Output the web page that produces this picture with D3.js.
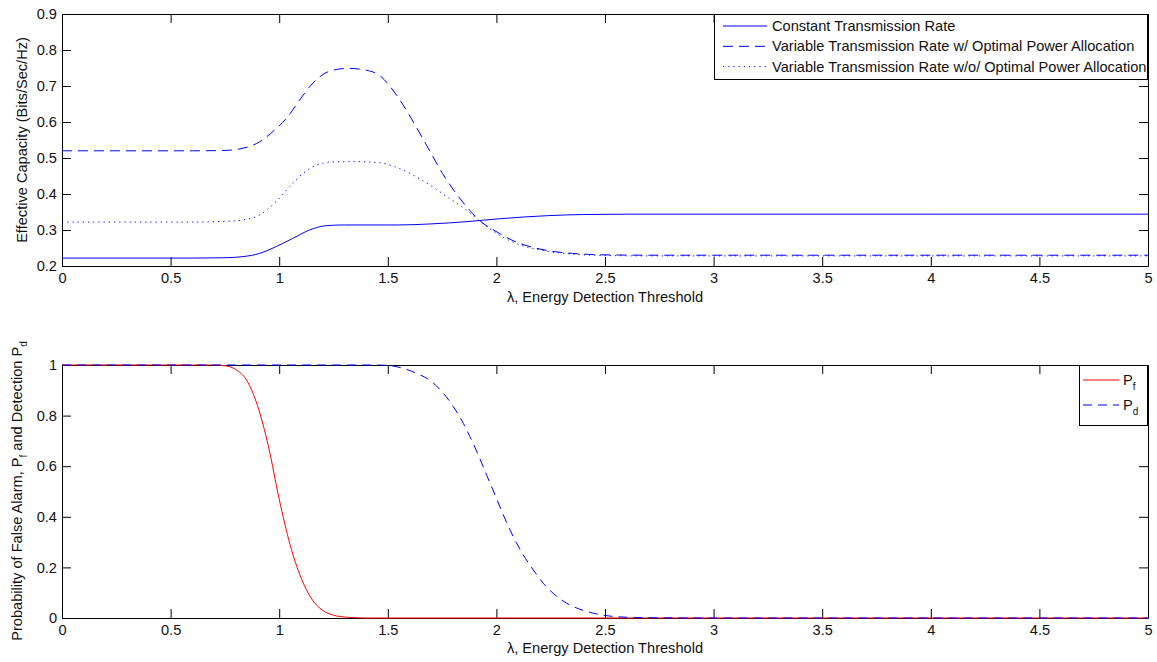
<!DOCTYPE html>
<html>
<head>
<meta charset="utf-8">
<script src="https://cdn.jsdelivr.net/npm/d3@7/dist/d3.min.js"></script>
<style>
  html, body { margin: 0; padding: 0; background: #fff; }
  svg { display: block; font-family: "Liberation Sans", Arial, Helvetica, sans-serif; }
</style>
</head>
<body>
<svg id="chart" width="1157" height="662"></svg>
<script>
// ---------- DATA ----------
const xTicks = [0, 0.5, 1, 1.5, 2, 2.5, 3, 3.5, 4, 4.5, 5];
const topYTicks = [0.2, 0.3, 0.4, 0.5, 0.6, 0.7, 0.8, 0.9];
const botYTicks = [0, 0.2, 0.4, 0.6, 0.8, 1];

const constX = [0, 0.6, 0.75, 0.833, 0.91, 0.986, 1.063, 1.14, 1.216, 1.3, 1.55, 1.7, 1.86, 2.01, 2.24, 2.4, 2.6, 3, 4, 5];
const constY = [0.222, 0.222, 0.223, 0.226, 0.235, 0.254, 0.277, 0.300, 0.312, 0.314, 0.314, 0.317, 0.323, 0.331, 0.340, 0.343, 0.344, 0.344, 0.344, 0.344];

const optX = [0, 0.6, 0.75, 0.833, 0.91, 0.979, 1.04, 1.094, 1.155, 1.232, 1.316, 1.4, 1.469, 1.523, 1.576, 1.63, 1.691, 1.752, 1.814, 1.875, 1.936, 2.013, 2.089, 2.166, 2.243, 2.35, 2.5, 2.7, 3, 4, 5];
const optY = [0.52, 0.52, 0.521, 0.527, 0.545, 0.578, 0.615, 0.661, 0.708, 0.741, 0.749, 0.744, 0.726, 0.689, 0.642, 0.587, 0.522, 0.457, 0.402, 0.356, 0.320, 0.291, 0.267, 0.252, 0.242, 0.235, 0.231, 0.230, 0.230, 0.230, 0.230];

const noOptX = [0, 0.6, 0.75, 0.833, 0.91, 0.986, 1.048, 1.109, 1.17, 1.247, 1.354, 1.461, 1.553, 1.63, 1.706, 1.783, 1.86, 1.936, 2.013, 2.089, 2.166, 2.243, 2.35, 2.5, 2.7, 3, 4, 5];
const noOptY = [0.322, 0.322, 0.324, 0.328, 0.342, 0.379, 0.420, 0.457, 0.480, 0.489, 0.490, 0.487, 0.471, 0.448, 0.420, 0.388, 0.356, 0.319, 0.286, 0.263, 0.249, 0.240, 0.233, 0.229, 0.228, 0.228, 0.228, 0.228];

const pfX = [0, 0.6, 0.7, 0.75, 0.8, 0.85, 0.9, 0.95, 1.0, 1.05, 1.1, 1.15, 1.2, 1.25, 1.3, 1.35, 1.4, 2, 3, 4, 5];
const pfY = [1, 1, 1, 0.997, 0.982, 0.94, 0.84, 0.68, 0.47, 0.29, 0.16, 0.075, 0.03, 0.011, 0.004, 0.001, 0, 0, 0, 0, 0];

const pdX = [0, 1, 1.4, 1.495, 1.556, 1.633, 1.702, 1.756, 1.802, 1.848, 1.878, 1.917, 1.955, 1.994, 2.032, 2.078, 2.124, 2.17, 2.216, 2.262, 2.324, 2.4, 2.5, 2.6, 2.7, 3, 4, 5];
const pdY = [1, 1, 1, 0.999, 0.99, 0.967, 0.934, 0.888, 0.835, 0.769, 0.717, 0.644, 0.565, 0.486, 0.407, 0.321, 0.249, 0.19, 0.137, 0.097, 0.058, 0.03, 0.01, 0.003, 0.001, 0, 0, 0];

const topLegend = ["Constant Transmission Rate",
  "Variable Transmission Rate w/ Optimal Power Allocation",
  "Variable Transmission Rate w/o/ Optimal Power Allocation"];

// ---------- DRAW ----------
const svg = d3.select("#chart");
const FS = 14.6;
const left = 62, right = 1148;
const BLUE = "#0000ff", RED = "#ff0000";
const fmt = d => String(+d.toFixed(2));

function zip(xs, ys) { return xs.map((x, i) => [x, ys[i]]); }

function panel(top, bottom, yDomain, yTicks) {
  const x = d3.scaleLinear().domain([0, 5]).range([left, right]);
  const y = d3.scaleLinear().domain(yDomain).range([bottom, top]);
  const g = svg.append("g");
  g.append("g").attr("transform", `translate(0,${bottom})`)
    .call(d3.axisBottom(x).tickValues(xTicks).tickFormat(fmt).tickSizeInner(-9).tickSizeOuter(0).tickPadding(7));
  g.append("g").attr("transform", `translate(0,${top})`)
    .call(d3.axisTop(x).tickValues(xTicks).tickFormat("").tickSizeInner(-9).tickSizeOuter(0));
  g.append("g").attr("transform", `translate(${left},0)`)
    .call(d3.axisLeft(y).tickValues(yTicks).tickFormat(fmt).tickSizeInner(-9).tickSizeOuter(0).tickPadding(5));
  g.append("g").attr("transform", `translate(${right},0)`)
    .call(d3.axisRight(y).tickValues(yTicks).tickFormat("").tickSizeInner(-9).tickSizeOuter(0));
  g.selectAll(".domain").attr("stroke", "#000").attr("stroke-width", 1);
  g.selectAll(".tick line").attr("stroke", "#000").attr("stroke-width", 1);
  g.selectAll(".tick text").attr("font-size", FS).attr("fill", "#111")
    .attr("font-family", '"Liberation Sans", Arial, sans-serif');
  return { x, y, g };
}

function drawLine(p, xs, ys, color, dash) {
  const line = d3.line().x(d => p.x(d[0])).y(d => p.y(d[1])).curve(d3.curveMonotoneX);
  p.g.append("path").datum(zip(xs, ys))
    .attr("d", line).attr("fill", "none").attr("stroke", color).attr("stroke-width", 1)
    .attr("stroke-dasharray", dash || null);
}

// ----- top panel -----
const P1 = panel(14, 266, [0.2, 0.9], topYTicks);
drawLine(P1, constX, constY, BLUE, null);
drawLine(P1, optX, optY, BLUE, "10,6");
drawLine(P1, noOptX, noOptY, BLUE, "1.2,4");

svg.append("text").attr("x", 605).attr("y", 302).attr("text-anchor", "middle")
  .attr("font-size", FS).attr("fill", "#111").text("λ, Energy Detection Threshold");
svg.append("text").attr("transform", "translate(27,140) rotate(-90)").attr("text-anchor", "middle")
  .attr("font-size", FS).attr("fill", "#111").text("Effective Capacity (Bits/Sec/Hz)");

// top legend
const L1 = svg.append("g");
L1.append("rect").attr("x", 714.5).attr("y", 14.5).attr("width", 433).attr("height", 65)
  .attr("fill", "#fff").attr("stroke", "#000").attr("stroke-width", 1);
const l1dash = [null, "10,6", "1.2,4"];
topLegend.forEach((t, i) => {
  const yy = 26 + i * 20.3;
  L1.append("line").attr("x1", 723).attr("x2", 767).attr("y1", yy).attr("y2", yy)
    .attr("stroke", BLUE).attr("stroke-width", 1).attr("stroke-dasharray", l1dash[i]);
  L1.append("text").attr("x", 772).attr("y", yy + 5).attr("font-size", FS).attr("fill", "#111").text(t);
});

// ----- bottom panel -----
const P2 = panel(365, 618, [0, 1], botYTicks);
drawLine(P2, pfX, pfY, RED, null);
drawLine(P2, pdX, pdY, BLUE, "9,6");

svg.append("text").attr("x", 605).attr("y", 653).attr("text-anchor", "middle")
  .attr("font-size", FS).attr("fill", "#111").text("λ, Energy Detection Threshold");

const yl = svg.append("text").attr("transform", "translate(22,491) rotate(-90)").attr("text-anchor", "middle")
  .attr("font-size", FS).attr("fill", "#111");
yl.append("tspan").text("Probability of False Alarm, P");
yl.append("tspan").attr("font-size", 10).attr("dy", 5).text("f");
yl.append("tspan").attr("dy", -5).text(" and Detection P");
yl.append("tspan").attr("font-size", 10).attr("dy", 5).text("d");

// bottom legend
const L2 = svg.append("g");
L2.append("rect").attr("x", 1079.5).attr("y", 365.5).attr("width", 68).attr("height", 60)
  .attr("fill", "#fff").attr("stroke", "#000").attr("stroke-width", 1);
const l2 = [{ s: "f", c: RED, d: null, y: 380 }, { s: "d", c: BLUE, d: "9,6", y: 405 }];
l2.forEach(e => {
  L2.append("line").attr("x1", 1083).attr("x2", 1119).attr("y1", e.y).attr("y2", e.y)
    .attr("stroke", e.c).attr("stroke-width", 1).attr("stroke-dasharray", e.d);
  const t = L2.append("text").attr("x", 1123).attr("y", e.y + 5).attr("font-size", FS).attr("fill", "#111");
  t.append("tspan").text("P");
  t.append("tspan").attr("font-size", 10).attr("dy", 5).text(e.s);
});
</script>
</body>
</html>
